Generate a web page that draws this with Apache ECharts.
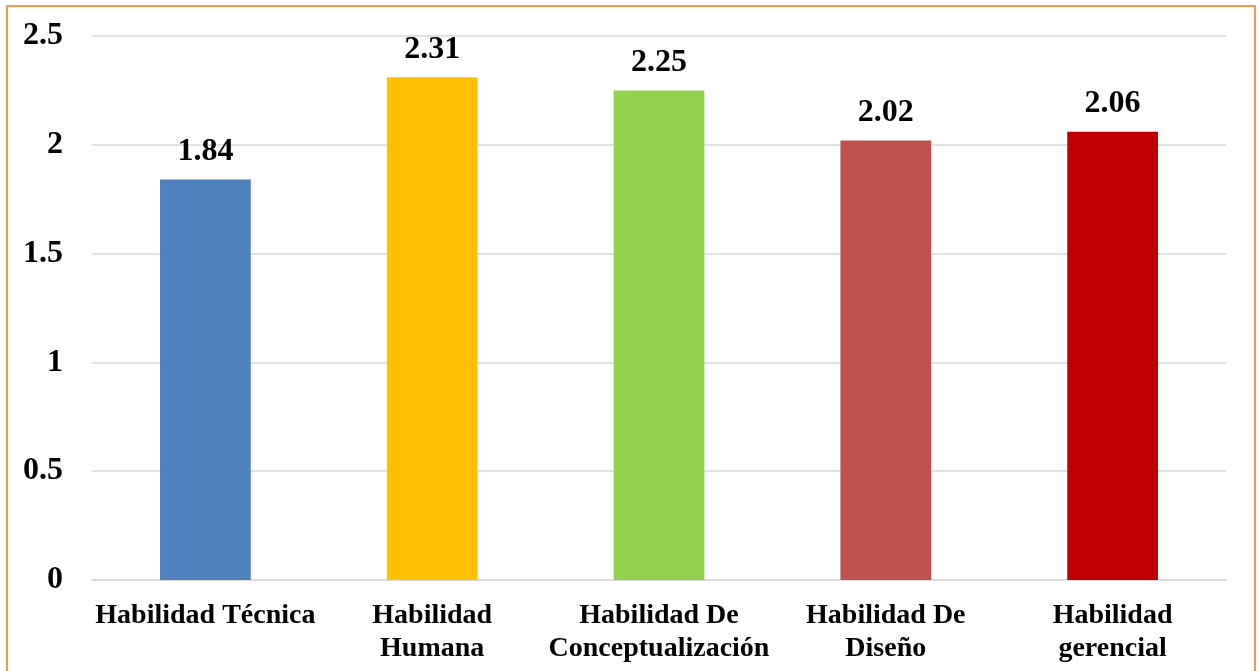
<!DOCTYPE html>
<html>
<head>
<meta charset="utf-8">
<script src="https://cdn.jsdelivr.net/npm/echarts@6/dist/echarts.min.js"></script>
<style>
  html, body { margin: 0; padding: 0; background: #fff; overflow: hidden; }
  #frame { position: absolute; left: 6px; top: 5px; width: 1246px; height: 720px; border: 2px solid #F79646; }
  #main { position: absolute; left: 0; top: 0; width: 1259px; height: 671px; }
</style>
</head>
<body>
<div id="frame"></div>
<div id="main"></div>
<script>
// categorias y valores
var categorias = ['Habilidad Técnica', 'Habilidad\nHumana', 'Habilidad De\nConceptualización', 'Habilidad De\nDiseño', 'Habilidad\ngerencial'];
var valores = [1.84, 2.31, 2.25, 2.02, 2.06];
var colores = ['#4F81BD', '#FFC000', '#92D050', '#C0504D', '#C00000'];
var ticksY = [0, 0.5, 1, 1.5, 2, 2.5];

var fuente = '"Liberation Serif", "Times New Roman", serif';

var myChart = echarts.init(document.getElementById('main'));
var option = {
    animation: false,
    grid: { left: 92, right: 33, top: 36, bottom: 91 },
    xAxis: {
        type: 'category',
        data: categorias,
        axisLine: { lineStyle: { color: '#D9D9D9', width: 1.5 } },
        axisTick: { show: false },
        axisLabel: {
            interval: 0, margin: 19, color: '#000', fontFamily: fuente,
            fontWeight: 'bold', fontSize: 28, lineHeight: 33
        }
    },
    yAxis: {
        type: 'value',
        min: ticksY[0], max: ticksY[ticksY.length - 1], interval: 0.5,
        axisLine: { show: false },
        axisTick: { show: false },
        splitLine: { lineStyle: { color: '#D9D9D9', width: 1.5 } },
        axisLabel: { margin: 29, color: '#000', fontFamily: fuente, fontWeight: 'bold', fontSize: 32 }
    },
    series: [{
        type: 'bar',
        barWidth: '40%',
        data: valores.map(function (v, i) {
            return { value: v, itemStyle: { color: colores[i] } };
        }),
        label: {
            show: true, position: 'top', distance: 12, color: '#000',
            fontFamily: fuente, fontWeight: 'bold', fontSize: 32,
            formatter: function (p) { return p.value.toFixed(2); }
        }
    }]
};
myChart.setOption(option);
</script>
</body>
</html>
